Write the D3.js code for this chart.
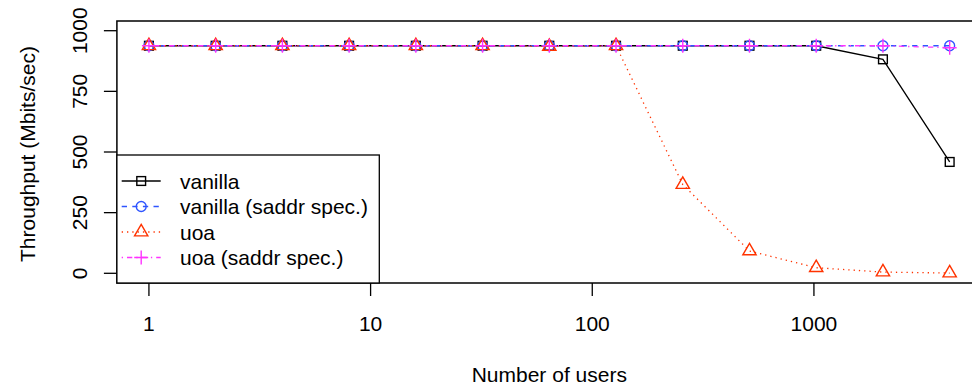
<!DOCTYPE html>
<html>
<head>
<meta charset="utf-8">
<script src="https://cdn.jsdelivr.net/npm/d3@7"></script>
<style>
  html, body { margin: 0; padding: 0; background: #fff; }
  svg { display: block; }
  text { font-family: "Liberation Sans", Arial, Helvetica, sans-serif; fill: #000; }
</style>
</head>
<body>
<svg id="chart" width="972" height="387"></svg>
<script>
// ---- data ----
const users = [1, 2, 4, 8, 16, 32, 64, 128, 256, 512, 1024, 2048, 4096];
const vanilla      = [938, 938, 938, 938, 938, 938, 938, 938, 938, 938, 938, 882, 459];
const vanillaSaddr = [938, 938, 938, 938, 938, 938, 938, 938, 938, 938, 938, 938, 938];
const uoa          = [938, 938, 938, 938, 938, 938, 935, 938, 366, 92, 23, 5, 1];
const uoaSaddr     = [938, 938, 938, 938, 938, 938, 938, 938, 938, 938, 938, 938, 930];
const seriesNames  = ["vanilla", "vanilla (saddr spec.)", "uoa", "uoa (saddr spec.)"];
const xTickValues  = [1, 10, 100, 1000];
const yTickValues  = [0, 250, 500, 750, 1000];
const xTitle = "Number of users";
const yTitle = "Throughput (Mbits/sec)";

// ---- styles ----
const styles = [
  { color: "#000000", dash: null,            shape: "square" },
  { color: "#2f55ff", dash: "5.3,5.3",       shape: "circle" },
  { color: "#ff3300", dash: "1.3,4",         shape: "triangle" },
  { color: "#ff33ff", dash: "1.3,4,5.3,4",   shape: "plus" }
];
const seriesData = [vanilla, vanillaSaddr, uoa, uoaSaddr];

(function draw() {
const svg = d3.select("#chart");
const W = 972, H = 387;
const pL = 116.9, pR = 981.7, pT = 21, pB = 283;

// R-style 4% extension on log range
const lmin = Math.log10(users[0]), lmax = Math.log10(users[users.length - 1]);
const ext = (lmax - lmin) * 0.04;
const x = d3.scaleLog().domain([Math.pow(10, lmin - ext), Math.pow(10, lmax + ext)]).range([pL, pR]);
const y = d3.scaleLinear().domain([-40, 1040]).range([pB, pT]);

svg.append("rect").attr("width", W).attr("height", H).attr("fill", "#fff");

svg.append("defs").append("clipPath").attr("id", "plotclip")
  .append("rect").attr("x", pL).attr("y", pT).attr("width", pR - pL).attr("height", pB - pT);

const s = 4.94;
function drawMarker(g, shape, cx, cy, color) {
  if (shape === "square") {
    const h = 0.886 * s;
    g.append("rect").attr("x", cx - h).attr("y", cy - h).attr("width", 2 * h).attr("height", 2 * h)
      .attr("fill", "none").attr("stroke", color).attr("stroke-width", 1.4);
  } else if (shape === "circle") {
    g.append("circle").attr("cx", cx).attr("cy", cy).attr("r", s)
      .attr("fill", "none").attr("stroke", color).attr("stroke-width", 1.4);
  } else if (shape === "triangle") {
    const r = 1.555 * s, xc = 1.347 * s, yc = 0.7775 * s;
    g.append("path").attr("d", `M${cx},${cy - r}L${cx + xc},${cy + yc}L${cx - xc},${cy + yc}Z`)
      .attr("fill", "none").attr("stroke", color).attr("stroke-width", 1.4);
  } else if (shape === "plus") {
    const a = 1.414 * s;
    g.append("path").attr("d", `M${cx - a},${cy}H${cx + a}M${cx},${cy - a}V${cy + a}`)
      .attr("fill", "none").attr("stroke", color).attr("stroke-width", 1.4);
  }
}

const plot = svg.append("g").attr("clip-path", "url(#plotclip)");
const line = d3.line().x(d => x(d[0])).y(d => y(d[1]));

seriesData.forEach((vals, i) => {
  const st = styles[i];
  const pts = users.map((u, j) => [u, vals[j]]);
  plot.append("path").attr("d", line(pts)).attr("fill", "none")
    .attr("stroke", st.color).attr("stroke-width", 1.3)
    .attr("stroke-dasharray", st.dash);
  const mg = plot.append("g");
  pts.forEach(p => drawMarker(mg, st.shape, x(p[0]), y(p[1]), st.color));
});

// plot box
svg.append("rect").attr("x", pL).attr("y", pT).attr("width", pR - pL).attr("height", pB - pT)
  .attr("fill", "none").attr("stroke", "#000").attr("stroke-width", 1.5);

// x axis
const xAxis = svg.append("g");
xTickValues.forEach(v => {
  xAxis.append("line").attr("x1", x(v)).attr("x2", x(v)).attr("y1", pB).attr("y2", pB + 13)
    .attr("stroke", "#000").attr("stroke-width", 1.3);
  xAxis.append("text").attr("x", x(v)).attr("y", 331).attr("text-anchor", "middle")
    .attr("font-size", 21).text(String(v));
});
svg.append("text").attr("x", (pL + pR) / 2).attr("y", 381.5).attr("text-anchor", "middle")
  .attr("font-size", 21).text(xTitle);

// y axis
const yAxis = svg.append("g");
yTickValues.forEach(v => {
  yAxis.append("line").attr("x1", pL - 13).attr("x2", pL).attr("y1", y(v)).attr("y2", y(v))
    .attr("stroke", "#000").attr("stroke-width", 1.3);
  yAxis.append("text").attr("transform", `translate(87,${y(v)}) rotate(-90)`).attr("text-anchor", "middle")
    .attr("font-size", 21).text(String(v));
});
svg.append("text").attr("transform", `translate(35,${(pT + pB) / 2 + 2}) rotate(-90)`)
  .attr("text-anchor", "middle").attr("font-size", 21).text(yTitle);

// legend
const lg = svg.append("g");
lg.append("rect").attr("x", pL).attr("y", 155).attr("width", 379.3 - pL).attr("height", pB - 155)
  .attr("fill", "#fff").attr("stroke", "#000").attr("stroke-width", 1.3);
const ly0 = 181, ldy = 25.5;
seriesNames.forEach((name, i) => {
  const st = styles[i];
  const yy = ly0 + i * ldy;
  lg.append("line").attr("x1", 121.7).attr("x2", 160.7).attr("y1", yy).attr("y2", yy)
    .attr("stroke", st.color).attr("stroke-width", 1.3).attr("stroke-dasharray", st.dash);
  drawMarker(lg, st.shape, 141.2, yy, st.color);
  lg.append("text").attr("x", 180).attr("y", yy + 7.5).attr("font-size", 21).text(name);
});
})();
</script>
</body>
</html>
